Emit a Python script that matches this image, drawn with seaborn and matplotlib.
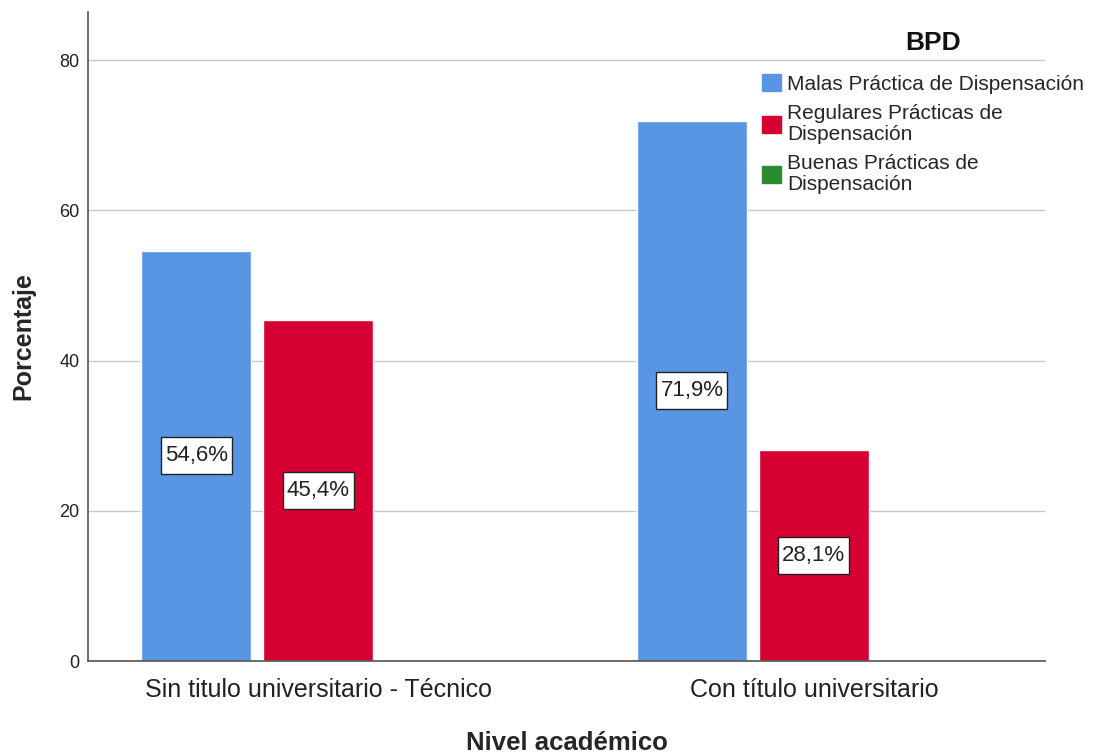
import matplotlib
matplotlib.use("Agg")
import matplotlib.pyplot as plt
import seaborn as sns
import pandas as pd
from matplotlib.patches import Patch

categories = ["Sin titulo universitario - Técnico", "Con título universitario"]
levels = ["Malas Práctica de Dispensación",
          "Regulares Prácticas de\nDispensación",
          "Buenas Prácticas de\nDispensación"]
malas = [54.6, 71.9]
regulares = [45.4, 28.1]
buenas = [0.0, 0.0]
colors = ["#5896E3", "#D60032", "#2B8A30"]

rows = []
for lvl, vals in zip(levels, [malas, regulares, buenas]):
    for c, v in zip(categories, vals):
        rows.append({"Nivel": c, "BPD": lvl, "Porcentaje": v})
df = pd.DataFrame(rows)

sns.set_theme(style="white")
plt.rcParams['font.family'] = ['Liberation Sans', 'DejaVu Sans']

fig = plt.figure(figsize=(11.05, 7.53), dpi=100)
ax = fig.add_axes([88/1105, 1-661/753, (1045-88)/1105, (661-12)/753])

sns.barplot(data=df, x="Nivel", y="Porcentaje", hue="BPD", order=categories,
            hue_order=levels, palette=colors, width=0.738, gap=0.1,
            saturation=1, ax=ax, legend=False, errorbar=None)

ax.set_ylim(0, 86.4)
ax.set_xlim(-0.464, 1.466)
ax.set_yticks([0, 20, 40, 60, 80])
ax.yaxis.grid(True, color="#C8C8C8", linewidth=1)
ax.set_axisbelow(True)
for s in ["top", "right"]:
    ax.spines[s].set_visible(False)
for s in ["left", "bottom"]:
    ax.spines[s].set_color("#555555")
    ax.spines[s].set_linewidth(1.2)
ax.tick_params(axis="y", labelsize=13, colors="#222222", length=0, pad=6)
ax.tick_params(axis="x", labelsize=18, colors="#222222", length=0, pad=12)
ax.set_ylabel("Porcentaje", fontsize=18, fontweight="bold", labelpad=17)
ax.set_xlabel("Nivel académico", fontsize=18.5, fontweight="bold", labelpad=21)

for cont in ax.containers:
    labs = [(f"{b.get_height():.1f}%".replace(".", ",") if b.get_height() > 0 else "")
            for b in cont]
    ax.bar_label(cont, labels=labs, label_type="center", fontsize=16,
                 color="#222222",
                 bbox=dict(boxstyle="square,pad=0.18", facecolor="white",
                           edgecolor="#222222", linewidth=1,
                           mutation_aspect=2.0))

handles = [Patch(facecolor=c, edgecolor=c) for c in colors]
leg = fig.legend(handles, levels, loc="upper left",
                 bbox_to_anchor=(762/1105, 1-74/753), frameon=False,
                 fontsize=15, handlelength=0.9, handleheight=0.9,
                 handletextpad=0.3, labelspacing=0.5, borderaxespad=0,
                 borderpad=0)
for t in leg.get_texts():
    t.set_linespacing(1.1)
fig.text(933/1105, 1-43/753, "BPD", fontsize=19, fontweight="bold",
         ha="center", va="center", color="#111111")

fig.savefig("out.png", dpi=100)
